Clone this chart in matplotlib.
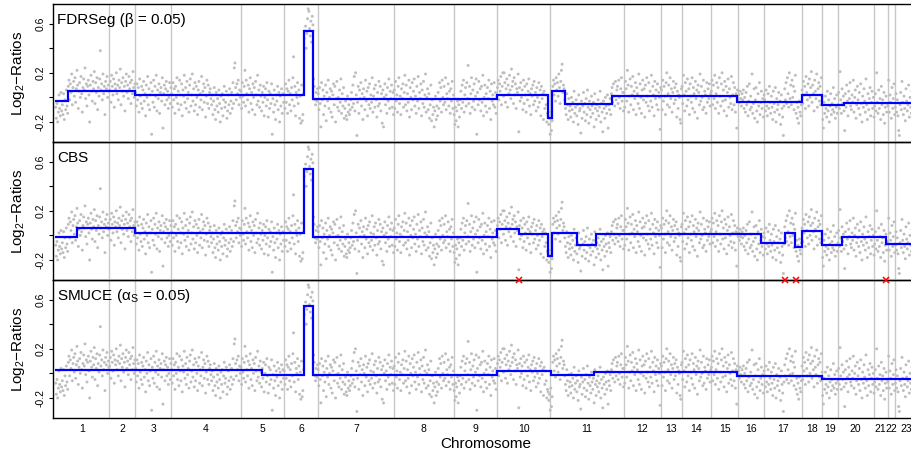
import matplotlib
matplotlib.use('Agg')
import matplotlib.pyplot as plt
import numpy as np

plt.rcParams['font.family'] = ['Liberation Sans', 'DejaVu Sans']
plt.rcParams['mathtext.fontset'] = 'custom'
plt.rcParams['mathtext.rm'] = 'Liberation Sans'
plt.rcParams['mathtext.it'] = 'Liberation Sans:italic'
plt.rcParams['axes.unicode_minus'] = False

# chromosome names on the x axis
chrom_labels = ['1', '2', '3', '4', '5', '6', '7', '8', '9', '10', '11', '12',
                '13', '14', '15', '16', '17', '18', '19', '20', '21', '22', '23']

# log2 ratios (in hundredths) per chromosome, probes in genome order
log2_chr = [
    [-8, -17, -5, -20, -12, 2, -9, -15, 4, -11, -6, -14, 3, -18, -2, -10, 6, -7, -13,
     9, 14, -2, 11, 4, 19, -6, 8, 13, 1, 16, -4, 7, 22, 10, -9, 5, 12, 0, 17,
     3, -12, 8, 15, 6, 24, -1, 11, -7, 9, 14, 2, -20, 10, 18, 5, -3, 13, 7, 21,
     -5, 12, 4, 16, -10, 8, 1, 15, 38, 6, 11, -2, 19, 3, 9, -14, 13, 7, 17, 0, 10, 5],
    [6, 13, -4, 18, 9, 2, 15, -8, 11, 7, 20, 3, 10, -2, 14, 8, 23, -6, 12, 5,
     16, 1, 9, -11, 13, 19, 4, 10, -1, 17, 7, 12, -5, 14, 3, 21, 8, 0, 11],
    [4, -7, 11, -2, 8, -12, 15, 1, -5, 9, -9, 6, 13, -3, 3, -15, 10, 0, 17, -6,
     7, -10, 2, 12, -30, 5, -4, 14, -8, 9, 1, 18, -11, 6, -1, 11, -13, 4, 8, -3,
     16, -25, 3, 10, -6, 7, 13, -2, 5, -9, 0, 12, -5, 8],
    [3, -8, 12, -2, 7, -13, 9, 0, 16, -5, 5, -10, 14, 2, -6, 11, -15, 6, 1, 18,
     -4, 8, -9, 13, -1, 4, -12, 10, 15, -7, 2, 19, -3, 7, -11, 12, -6, 9, 0, -14,
     6, 13, -8, 3, -2, 17, -10, 5, 11, -4, 8, -16, 1, 14, -5, 10, -9, 4, 7, -1,
     -6, 2, -14, -3, 8, -10, -18, 4, -7, -1, -12, 6, -5, -20, 1, -9, 3, -15, -2, 9,
     -8, -4, 5, -17, -11, 2, -6, 7, -13, -3, 4, -9, 12, -5, 24, 28, 8, -2, 11, 3,
     14, -6, 6, 0],
    [5, -9, 12, 1, -4, 9, 22, -7, 14, 3, -2, 10, -12, 7, 16, -5, 4, -10, 11, 0,
     8, -14, 13, 2, -6, 18, -3, 6, -8, 10, 1, -11, 4, -4, 9, -15, 0, 7, -7, 12,
     -2, -16, 5, -9, 3, -5, 11, -30, -1, -12, 6, -6, -18, 2, -3, 9, -10, 4, -20, 1,
     -7, 7, -13, 3, -4],
    [2, -9, 11, -4, 7, -13, 5, 14, -6, 3, -11, 8, -2, 16, 33, -7, 9, -15, 4, 0,
     12, -5, 6, -17, 1, -21, 10, -19, -14, 3,
     48, 54, 58, 40, 52, 64, 72, 70, 56, 50, 62, 45, 66, 59,
     15, 9, -2, -6, 4, -3, 7],
    [3, -10, 8, -5, -24, 12, -2, 6, -14, 1, -7, 10, -19, 4, -3, 14, -9, 0, 7, -12,
     5, -16, 2, 11, -6, 9, -20, -1, 13, -8, 0, -11, 6, -4, 15, -13, 3, -7, 8, -17,
     -9, -3, -15, -18, 1, -12, -6, -14, -10, -2, 4, -8, 10, -5, 17, -11, 20, 2, -31, -4,
     9, -13, 6, -1, 12, -7, 3, -18, 7, 0, -10, 14, -3, 5, -15, 8, -6, 11, -9, 2,
     -4, 16, -12, 1, 7, -8, 10, -2, -16, 4, -7, 13, -5, 9, -11, 3, -21, 6, -24, 0,
     11, -6, 2, -13, 8, -3, 15, -9, 5, -1, 10, -8, 4, -14],
    [6, -9, 13, -3, 2, -12, 9, 16, -5, 1, -14, 7, -1, 11, -8, 4, 18, -6, 10, -11,
     3, -4, 14, -16, 8, 0, -10, 12, -2, 5, 15, -7, 1, -13, 9, -3, 17, -9, 4, -1,
     11, -15, 6, -5, 13, -8, 2, 19, -12, 0, 7, -10, 3, -17, -6, 10, -19, -2, -14, -8,
     -24, -11, 1, -18, -7, -15, 4, -9, 12, -3, 8, -12, 14, 0, -6, 9, -4, 16, -10, 3,
     -1, 11, -7, 5, -13, 7, -3, 13, -9, 2],
    [-14, -22, -8, -19, -11, -3, -24, -6, -16, -2, 5, -9, 10, -4, 14, -12, 2, 8, -7, 12,
     -1, 26, -5, 9, -13, 3, 16, -8, 6, -3, 11, -10, 1, 15, -30, 4, -6, 13, -2, 7,
     -11, 9, -4, 18, -15, 0, 10, -7, 3, -12, 8, -1, 14, -9, 5, -18, 11, -3, 2, -6,
     12, -8, 4, -13, 1],
    [8, 14, -2, 11, 5, 17, -6, 9, 20, 1, 20, 12, -4, 7, 15, -8, 10, 3, 18, 6,
     -1, 23, 9, 13, -5, 16, 2, 11, -9, 7, 4, 19, -28, 8, -3, 12, 0, 6, -10, 14,
     -5, 9, 2, -12, 11, -2, 5, 15, -7, 3, -14, 7, 1, 10, -6, 13, -3, 4, -11, 8,
     0, -8, 12, -4, 6, -15, 9, -1, 3, -18, 5, -9, 2, -6, -20, -13, -15, -22, -17, -30],
    [-12, -27, -19, 9, 14, 2, 11, -3, 16, 6, 12, 1, 19, 8, -5, 13, 22, 27, 4, 10,
     7, -2, -9, -14, 3, -6, -18, -1, -11, -7, -16, 0, -10, -4, -20, 5, -13, -8, -2, -15,
     -6, -22, 2, -11, -9, -29, -3, -17, -7, 4, -12, -5, -19, -1, -14, 6, -8, -21, -3, -10,
     -16, 1, -7, -13, -4, -24, 3, -9, -18, -6, -11, -2, -15, -8, 5, -20, -5, -12, -28, -3,
     -9, -17, 0, -7, -13, 2, -25, -6, -10, -1, -14, 3, 8, -4, 11, 1, -7, 13, -2, 6,
     9, -5, 14, 0, -9, 7, 16, -3, 4, -11],
    [4, -8, 13, 7, -3, 22, 10, -12, 1, 15, -6, 9, 2, 17, -10, 5, -1, 12, -14, 8,
     3, -5, 19, -9, 11, 0, -13, 6, 14, -2, 7, -16, 10, -4, 16, 1, -7, 12, -11, 5,
     -3, 18, -8, 9, 2, -15, 13, -1, 6, -6, 11, -10, 4, 0, -26, 8],
    [6, -10, 14, -3, 9, 1, -14, 12, 20, -6, 3, 10, -8, 16, -1, 7, -12, 4, 13, -5,
     8, -2, 11, -16, 5, -9, 2, 0, -18, -21, 7],
    [9, -5, 18, 2, -11, 12, 5, -7, 15, -2, 7, -14, 11, 1, -4, 16, -9, 8, 3, -12,
     13, -1, 6, -17, 10, 4, -6, 19, -3, 9, 0, -10, 14, -8, 5, 2, -13, 12, -4, 7,
     -1, 11, -7, 3],
    [5, 14, -6, 10, -1, 18, -9, 3, 12, -4, 8, -13, 16, 1, -7, 11, 20, -3, 6, -11,
     13, -2, 9, -15, 4, 15, -8, 7, 0, -5, 17, -10, 2, 12, -6, 8, -12, 3, -25, 6, -1],
    [2, -4, 5, -1, -7, 3, -2, 6, -9, 0, -12, 4, -6, 9, -15, -3, 11, -10, 1, -8,
     19, -13, -5, 7, -17, -2, 8, -11, -20, 3, -7, 12, -14, -4, 5, -9, -1, -16, 2],
    [-2, -11, 6, -7, -15, 3, -9, 9, -4, -13, 1, -8, -18, 5, -5, -12, 8, -20, -1, -10,
     -6, 4, -14, -3, -22, 2, -9, -16, -31, -7, 7, -2, 12, -5, 16, 3, -8, 20, -1, 10,
     -6, 14, 0, 9, -10, 5, 18, -13, -4, -17, -8, -21, -3, -12, -15, -6],
    [6, -5, 13, 2, 9, -9, 17, 4, -2, 11, -7, 15, 0, 8, 21, -4, 10, 3, -11, 14,
     5, -1, 19, -8, 7, 12, -3, 9, -6, 16, 1],
    [-18, -25, -4, -13, 1, -9, -16, 5, -11, -2, -20, -7, 3, -14, -5, -10, 8, -12, -1, -17,
     -8, 2, -13],
    [-6, 4, -9, 21, -2, -13, 7, -5, 1, -11, -27, 3, -8, 10, -3, -15, 5, -1, 12, -7,
     -10, 2, -4, 14, -12, 0, 6, -17, -6, 9, -2, -9, 4, -14, 11, -5, -20, 1, -8, 7,
     -3, -12, 15, -6, -18, 3, -10, -1, 8, -15, -4, 5, -9, 0],
    [-16, -7, 3, -11, 20, -4, -13, 6, -9, -1, -18, 9, -6, -2, -14, 4, -21, -8, 1, -12, -5],
    [-7, 14, -12, 2, -4, -17, 8, -9, -1, 11, -14],
    [-8, 3, -12, -2, -15, -27, -31, -6, 4, -10, 13, -4, -14, 1, -9, -19, 7, -3, -11, -6,
     10, -16, 0, -8, -13, 5, -21, -1, -7, 2, -12, -4, 8, -10],
]

# segmentations: break positions (probe index) and segment means
fdr_breaks = [0, 19, 120, 373, 387, 663, 740, 746, 765, 836, 1023, 1120, 1151, 1184, 1294]
fdr_levels = [-0.033, 0.051, 0.016, 0.542, -0.014, 0.022, -0.171, 0.049, -0.054, 0.011,
              -0.035, 0.019, -0.059, -0.049]
cbs_breaks = [0, 33, 120, 373, 387, 663, 696, 740, 746, 783, 811, 1059, 1095, 1110, 1120,
              1151, 1180, 1247, 1294]
cbs_levels = [-0.011, 0.061, 0.016, 0.543, -0.011, 0.056, 0.010, -0.164, 0.019, -0.075,
              0.013, -0.060, 0.019, -0.094, 0.032, -0.078, -0.016, -0.070]
smuce_breaks = [0, 310, 373, 387, 663, 744, 809, 1023, 1151, 1294]
smuce_levels = [0.027, -0.011, 0.547, -0.014, 0.021, -0.014, 0.010, -0.022, -0.049]
cbs_flags = [696, 1095, 1111, 1246]

y = np.concatenate([np.array(v, dtype=float) for v in log2_chr]) / 100
x = np.arange(len(y))
counts = [len(v) for v in log2_chr]
edges = np.concatenate([[0], np.cumsum(counts)])
mids = (edges[:-1] + edges[1:]) / 2 - 0.5

W, H = 911, 455
fig = plt.figure(figsize=(W / 100, H / 100), dpi=100)

panels = [
    (fdr_breaks, fdr_levels, 'FDRSeg (β = 0.05)'),
    (cbs_breaks, cbs_levels, 'CBS'),
    (smuce_breaks, smuce_levels, 'SMUCE (α$_{\\rm S}$ = 0.05)'),
]
tops = [4, 142, 280]
ymin, ymax = -0.363, 0.76

for k, (brk, lev, title) in enumerate(panels):
    top = tops[k]
    ax = fig.add_axes([53 / W, 1 - (top + 138) / H, 865 / W, 138 / H])
    ax.set_facecolor('none')
    ax.set_zorder(10 - k)
    ax.set_xlim(-4, len(y))
    ax.set_ylim(ymin, ymax)
    for e in edges[1:-1]:
        ax.axvline(e - 0.5, color='#C8C8C8', lw=1.0, zorder=0)
    ax.scatter(x, y, s=4.5, color='#BEBEBE', edgecolors='none', zorder=1)
    ax.stairs(lev, np.array(brk) - 0.5, baseline=None, color='#0000FF', lw=1.6, zorder=3)
    ax.text(0.0046, 0.858, title, transform=ax.transAxes, fontsize=11,
            ha='left', va='baseline')

    ax.spines['right'].set_visible(False)
    for sp in ['left', 'top', 'bottom']:
        ax.spines[sp].set_linewidth(1.0)

    ax.set_yticks([-0.2, 0, 0.2, 0.4, 0.6])
    ax.set_yticklabels(['-0.2', '', '0.2', '', '0.6'], rotation=90, va='center', fontsize=7.5)
    ax.tick_params(axis='y', length=3, width=0.8, pad=2.5)

    if k == 2:
        ax.set_xticks(mids)
        ax.set_xticklabels(chrom_labels, fontsize=7.5)
        ax.tick_params(axis='x', length=0, pad=4.5)
    else:
        ax.set_xticks([])

    if k == 1:
        ax.plot(cbs_flags, [ymin] * len(cbs_flags), ls='none', marker='x', color='red',
                ms=4.5, mew=1.1, clip_on=False, zorder=6)

    fig.text(18 / W, 1 - (top + 69) / H, 'Log$_2$\u2212Ratios', rotation=90,
             ha='center', va='center', fontsize=11)

fig.text(485.5 / W, 1 - 448 / H, 'Chromosome', ha='center', va='baseline', fontsize=11)

fig.savefig('out.png', dpi=100)
